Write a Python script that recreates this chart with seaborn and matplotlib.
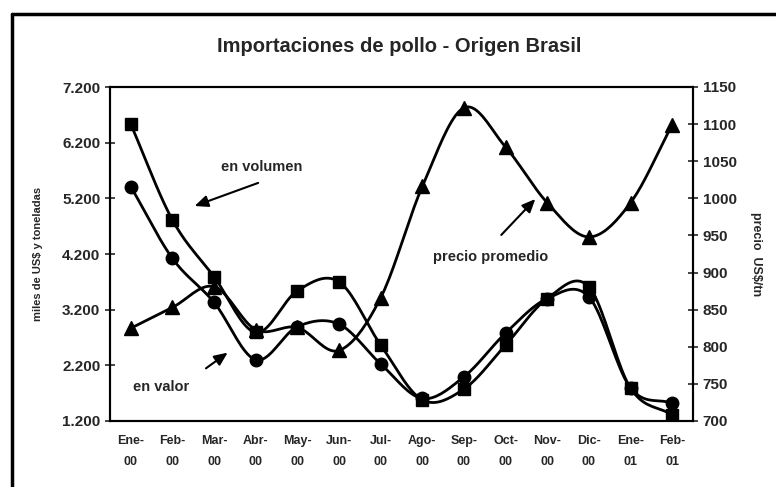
import numpy as np
import pandas as pd
import matplotlib
matplotlib.use("Agg")
import matplotlib.pyplot as plt
import seaborn as sns
from matplotlib.ticker import FuncFormatter, FixedLocator

# data
meses = ["Ene-\n00", "Feb-\n00", "Mar-\n00", "Abr-\n00", "May-\n00", "Jun-\n00", "Jul-\n00",
         "Ago-\n00", "Sep-\n00", "Oct-\n00", "Nov-\n00", "Dic-\n00", "Ene-\n01", "Feb-\n01"]
volumen = [6530, 4810, 3790, 2790, 3540, 3700, 2565, 1580, 1775, 2565, 3400, 3610, 1790, 1310]
valor = [5410, 4120, 3330, 2300, 2895, 2940, 2225, 1605, 1995, 2780, 3400, 3430, 1795, 1520]
precio = [825, 853, 881, 823, 826, 795, 866, 1016, 1122, 1069, 994, 948, 994, 1099]
ticks_izq = [1200, 2200, 3200, 4200, 5200, 6200, 7200]
ticks_der = [700, 750, 800, 850, 900, 950, 1000, 1050, 1100, 1150]


def smooth(y, n=20):
    # Excel-style smoothed line: Catmull-Rom between the points
    y = np.asarray(y, float)
    p = np.concatenate([[2 * y[0] - y[1]], y, [2 * y[-1] - y[-2]]])
    xs, ys = [], []
    for i in range(len(y) - 1):
        p0, p1, p2, p3 = p[i], p[i + 1], p[i + 2], p[i + 3]
        t = np.linspace(0, 1, n, endpoint=False)
        seg = 0.5 * ((2 * p1) + (-p0 + p2) * t + (2 * p0 - 5 * p1 + 4 * p2 - p3) * t ** 2
                     + (-p0 + 3 * p1 - 3 * p2 + p3) * t ** 3)
        xs.append(i + t)
        ys.append(seg)
    xs.append([len(y) - 1])
    ys.append([y[-1]])
    return np.concatenate(xs), np.concatenate(ys)


sns.set_style("white")
plt.rcParams["font.family"] = ["Liberation Sans", "DejaVu Sans"]
plt.rcParams["font.weight"] = "bold"

fig = plt.figure(figsize=(7.76, 4.87), dpi=100)
ax = fig.add_axes([110 / 776, 66 / 487, 583 / 776, 334 / 487])
ax2 = ax.twinx()

x = np.arange(len(meses))
df = pd.DataFrame({"x": x, "volumen": volumen, "valor": valor, "precio": precio})

for col, mk, ms, axis in [("volumen", "s", 9, ax), ("valor", "o", 9, ax), ("precio", "^", 10, ax2)]:
    sx, sy = smooth(df[col])
    sns.lineplot(x=sx, y=sy, ax=axis, color="black", lw=2, sort=False)
    axis.plot(df["x"], df[col], ls="none", marker=mk, ms=ms, color="black")

ax.set_xlim(-0.5, len(meses) - 0.5)
ax.set_ylim(ticks_izq[0], ticks_izq[-1])
ax2.set_ylim(ticks_der[0], ticks_der[-1])
ax.yaxis.set_major_locator(FixedLocator(ticks_izq))
ax2.yaxis.set_major_locator(FixedLocator(ticks_der))
ax.yaxis.set_major_formatter(FuncFormatter(lambda v, p: f"{v:,.0f}".replace(",", ".")))

ax.set_xticks(x)
ax.set_xticklabels(meses, fontsize=9, fontweight="bold", linespacing=2.0)
ax.xaxis.set_minor_locator(FixedLocator(np.arange(-0.5, len(meses), 1)))
ax.tick_params(axis="x", which="major", length=0, pad=10)
ax.tick_params(axis="x", which="minor", direction="inout", length=6, width=1.2)
ax.tick_params(axis="y", direction="inout", length=7, width=1.2, labelsize=11)
ax2.tick_params(axis="y", direction="inout", length=7, width=1.2, labelsize=11)
for lab in ax.get_yticklabels() + ax2.get_yticklabels():
    lab.set_fontweight("bold")

for a in (ax, ax2):
    for s in a.spines.values():
        s.set_linewidth(1.5)
        s.set_color("black")

ax.set_ylabel("miles de US$ y toneladas", fontsize=8, fontweight="bold", labelpad=14)
ax2.set_ylabel("precio  US$/tn", fontsize=9, fontweight="bold", rotation=270, labelpad=18)

fig.suptitle("Importaciones de pollo - Origen Brasil", x=399 / 776, y=1 - 47 / 487,
             va="center", fontsize=14.5, fontweight="bold")

arrow = dict(arrowstyle="-|>,head_length=0.8,head_width=0.35", color="black", lw=1.5)
ax.text(3.15, 5760, "en volumen", fontsize=10.5, fontweight="bold", ha="center", va="center")
ax.annotate("", xy=(1.47, 5045), xytext=(3.12, 5494), arrowprops=arrow)
ax.text(0.72, 1812, "en valor", fontsize=10.5, fontweight="bold", ha="center", va="center")
ax.annotate("", xy=(2.38, 2458), xytext=(1.75, 2117), arrowprops=arrow)
ax.text(8.63, 4147, "precio promedio", fontsize=10.5, fontweight="bold", ha="center", va="center")
ax.annotate("", xy=(9.76, 5224), xytext=(8.85, 4506), arrowprops=arrow)

# outer frame of the original sheet
fig.add_artist(plt.Line2D([12 / 776, 12 / 776], [0, 1 - 14 / 487], color="black", lw=2.5))
fig.add_artist(plt.Line2D([12 / 776, 1], [1 - 14 / 487, 1 - 14 / 487], color="black", lw=2.5))

fig.savefig("out.png", dpi=100)
